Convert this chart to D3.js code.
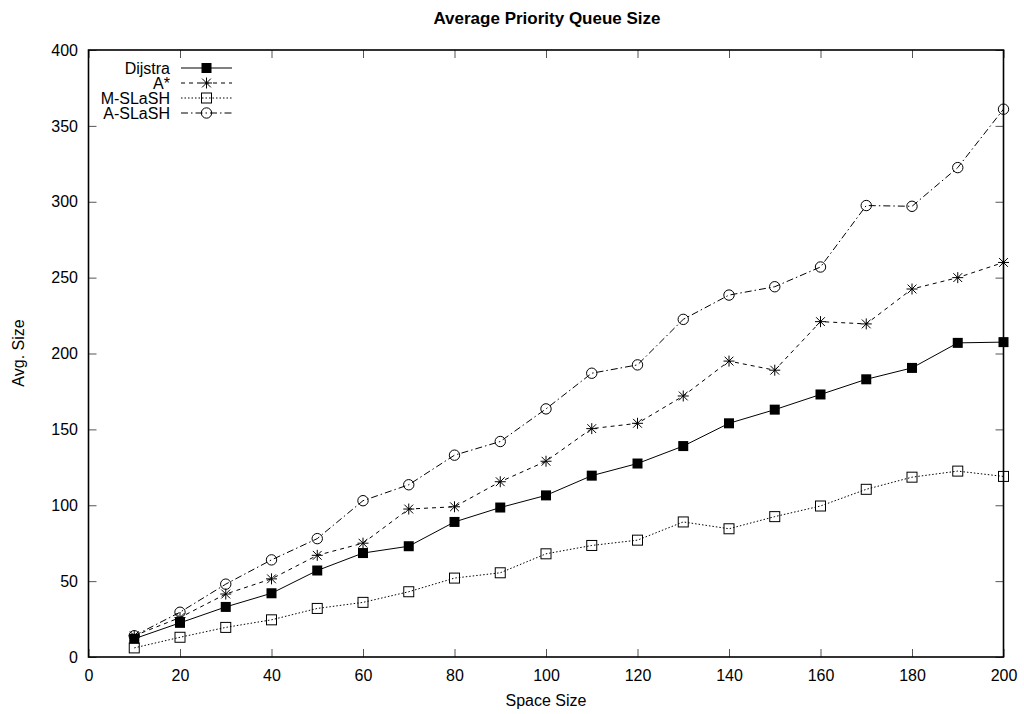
<!DOCTYPE html>
<html>
<head>
<meta charset="utf-8">
<script src="https://cdn.jsdelivr.net/npm/d3@7"></script>
<style>
  html, body { margin: 0; padding: 0; background: #fff; }
  svg { display: block; font-family: "Liberation Sans", Arial, Helvetica, sans-serif; }
</style>
</head>
<body>
<svg id="chart" width="1024" height="714"></svg>
<script>
// Space sizes on the x axis
const spaceSizes = [10, 20, 30, 40, 50, 60, 70, 80, 90, 100, 110, 120, 130, 140, 150, 160, 170, 180, 190, 200];

// Average priority queue size for each algorithm
const dijkstra = [12, 22.5, 33, 42, 57, 68.5, 73, 89, 98.5, 106.5, 119.5, 127.5, 139, 154, 163, 173, 183, 190.5, 207, 207.5];
const aStar    = [14, 26, 41.5, 51.5, 67, 75, 97.5, 99, 115.5, 129, 150.5, 154, 172, 195, 189, 221, 219.5, 242.5, 250, 260];
const mSlash   = [6, 13, 19.5, 24.5, 32, 36, 43, 52, 55.5, 68, 73.5, 77, 89, 84.5, 92.5, 99.5, 110.5, 118.5, 122.5, 119];
const aSlash   = [14, 29.5, 48, 64, 78, 103, 113.5, 133, 142, 163.5, 187, 192.5, 222.5, 238.5, 244, 257, 297.5, 297, 322.5, 361];

const xTicks = [0, 20, 40, 60, 80, 100, 120, 140, 160, 180, 200];
const yTicks = [0, 50, 100, 150, 200, 250, 300, 350, 400];

const seriesNames = ["Dijstra", "A*", "M-SLaSH", "A-SLaSH"];
const seriesValues = [dijkstra, aStar, mSlash, aSlash];
const seriesDash = [null, "4,4", "1.5,2", "7,3,1.5,3"];
const seriesMarker = ["fsquare", "star", "osquare", "circle"];

const svg = d3.select("#chart");
const plotL = 88.5, plotR = 1003.5, plotT = 50, plotB = 657;
const fontSize = 16;

const x = d3.scaleLinear().domain([0, 200]).range([plotL, plotR]);
const y = d3.scaleLinear().domain([0, 400]).range([plotB, plotT]);

// Title and axis labels
svg.append("text").attr("x", 547).attr("y", 24).attr("text-anchor", "middle")
  .attr("font-size", 17).attr("font-weight", "bold").text("Average Priority Queue Size");
svg.append("text").attr("x", 546).attr("y", 706).attr("text-anchor", "middle")
  .attr("font-size", fontSize).text("Space Size");
svg.append("text").attr("transform", "translate(24,353) rotate(-90)").attr("text-anchor", "middle")
  .attr("font-size", fontSize).text("Avg. Size");

// Axes: labelled bottom/left, mirrored inward ticks on top/right
const tickLen = 8;
const gB = svg.append("g").attr("transform", `translate(0,${plotB})`)
  .call(d3.axisBottom(x).tickValues(xTicks).tickSize(-tickLen).tickPadding(13).tickFormat(d3.format("d")));
const gT = svg.append("g").attr("transform", `translate(0,${plotT})`)
  .call(d3.axisTop(x).tickValues(xTicks).tickSize(-tickLen).tickFormat(""));
const gL = svg.append("g").attr("transform", `translate(${plotL},0)`)
  .call(d3.axisLeft(y).tickValues(yTicks).tickSize(-tickLen).tickPadding(10.5).tickFormat(d3.format("d")));
const gR = svg.append("g").attr("transform", `translate(${plotR},0)`)
  .call(d3.axisRight(y).tickValues(yTicks).tickSize(-tickLen).tickFormat(""));
[gB, gT, gL, gR].forEach(g => {
  g.select(".domain").remove();
  g.selectAll(".tick line").attr("stroke", "#555").attr("stroke-width", 1);
  g.selectAll(".tick text").attr("font-size", fontSize).attr("fill", "#000")
    .attr("font-family", "'Liberation Sans', Arial, sans-serif");
});

// Frame
svg.append("rect").attr("x", plotL).attr("y", plotT).attr("width", plotR - plotL).attr("height", plotB - plotT)
  .attr("fill", "none").attr("stroke", "#000").attr("stroke-width", 1.6);

function drawMarker(g, kind, cx, cy) {
  if (kind === "fsquare") {
    g.append("rect").attr("x", cx - 5).attr("y", cy - 5).attr("width", 10).attr("height", 10).attr("fill", "#000");
  } else if (kind === "osquare") {
    g.append("rect").attr("x", cx - 5).attr("y", cy - 5).attr("width", 10).attr("height", 10)
      .attr("fill", "none").attr("stroke", "#000").attr("stroke-width", 1);
  } else if (kind === "circle") {
    g.append("circle").attr("cx", cx).attr("cy", cy).attr("r", 5.2)
      .attr("fill", "none").attr("stroke", "#000").attr("stroke-width", 1);
  } else if (kind === "star") {
    const s = 5.5;
    const path = `M${cx - s},${cy}H${cx + s}M${cx},${cy - s}V${cy + s}` +
      `M${cx - s * 0.8},${cy - s * 0.8}L${cx + s * 0.8},${cy + s * 0.8}` +
      `M${cx - s * 0.8},${cy + s * 0.8}L${cx + s * 0.8},${cy - s * 0.8}`;
    g.append("path").attr("d", path).attr("stroke", "#000").attr("stroke-width", 1).attr("fill", "none");
  }
}

const line = d3.line().x(d => x(d[0])).y(d => y(d[1]));

seriesValues.forEach((vals, i) => {
  const pts = spaceSizes.map((s, j) => [s, vals[j]]);
  const g = svg.append("g");
  g.append("path").attr("d", line(pts)).attr("fill", "none").attr("stroke", "#000")
    .attr("stroke-width", 1).attr("stroke-dasharray", seriesDash[i]);
  pts.forEach(p => drawMarker(g, seriesMarker[i], x(p[0]), y(p[1])));
});

// Legend
const legY0 = 68, legStep = 15, legTextX = 170, legLine0 = 181, legLine1 = 232;
seriesNames.forEach((name, i) => {
  const ly = legY0 + i * legStep;
  const g = svg.append("g");
  g.append("text").attr("x", legTextX).attr("y", ly + 5.5).attr("text-anchor", "end")
    .attr("font-size", fontSize).text(name);
  g.append("line").attr("x1", legLine0).attr("x2", legLine1).attr("y1", ly).attr("y2", ly)
    .attr("stroke", "#000").attr("stroke-width", 1).attr("stroke-dasharray", seriesDash[i]);
  drawMarker(g, seriesMarker[i], (legLine0 + legLine1) / 2, ly);
});
</script>
</body>
</html>
